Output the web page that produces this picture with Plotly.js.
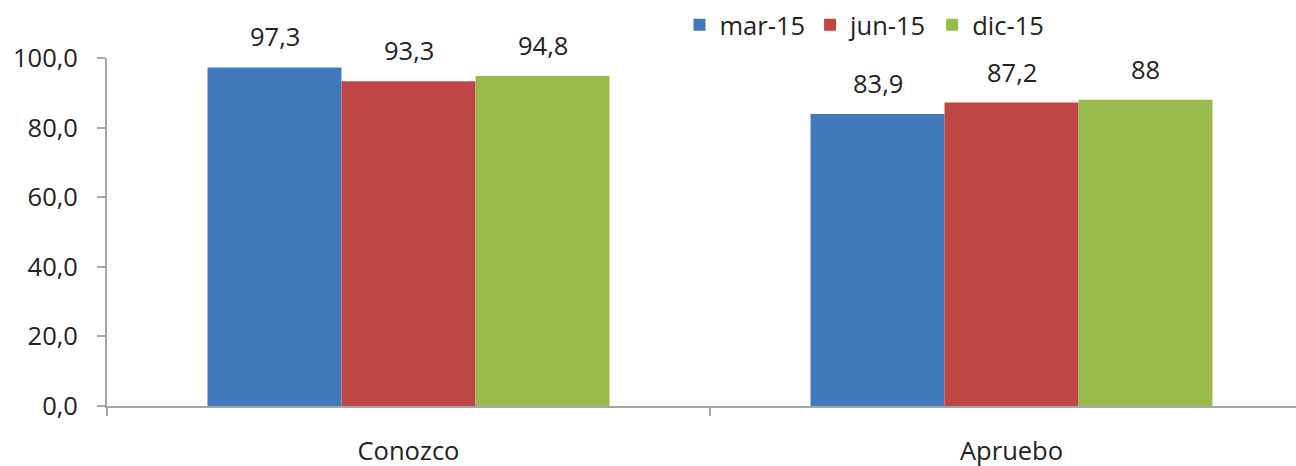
<!DOCTYPE html>
<html>
<head>
<meta charset="utf-8">
<script src="https://cdn.plot.ly/plotly-3.0.1.min.js"></script>
<style>html,body{margin:0;padding:0;background:#fff;overflow:hidden}#chart{width:1296px;height:466px}</style>
</head>
<body>
<div id="chart"></div>
<script>
const categories = ["Conozco", "Apruebo"];
const seriesNames = ["mar-15", "jun-15", "dic-15"];
const mar15 = [97.3, 83.9];
const jun15 = [93.3, 87.2];
const dic15 = [94.8, 88];
const yTicks = [0, 20, 40, 60, 80, 100];
const yTickLabels = ["0,0", "20,0", "40,0", "60,0", "80,0", "100,0"];

const colors = ["#4279BC", "#BF4644", "#98B94C"];
const allSeries = [mar15, jun15, dic15];
const fmt = v => String(v).replace(".", ",");
const FONT = "Open Sans, sans-serif";
const FS = 25.5;
const bargap = 1/3;

const traces = allSeries.map((vals, j) => ({
  type: "bar",
  name: seriesNames[j],
  x: categories,
  y: vals,
  marker: {color: colors[j], line: {width: 0}},
  hoverinfo: "skip"
}));

const bw = (1 - bargap) / allSeries.length;
const annotations = [];
allSeries.forEach((vals, j) => {
  vals.forEach((v, i) => {
    annotations.push({
      x: i + (j - (allSeries.length - 1) / 2) * bw,
      y: v, xref: "x", yref: "y",
      text: fmt(v), showarrow: false,
      yanchor: "bottom", yshift: 12,
      font: {family: FONT, size: FS, color: "#222"}
    });
  });
});

const plotW = 1296 - 107;
const pitch = 603;

const layout = {
  width: 1296, height: 466,
  margin: {l: 107, r: 0, t: 58, b: 60},
  paper_bgcolor: "#fff", plot_bgcolor: "#fff",
  barmode: "group", bargap: bargap, bargroupgap: 0,
  font: {family: FONT, size: FS, color: "#222"},
  showlegend: true,
  legend: {
    orientation: "h", x: 0.4815, xanchor: "left",
    yref: "container", y: 0.946, yanchor: "middle",
    font: {family: FONT, size: FS, color: "#222"},
    traceorder: "normal", itemwidth: 30
  },
  xaxis: {
    type: "category",
    range: [-0.5, -0.5 + plotW / pitch],
    showline: true, linecolor: "#A6A6A6", linewidth: 2,
    ticks: "outside", tickson: "boundaries", ticklen: 8, tickcolor: "#A6A6A6", tickwidth: 2,
    showgrid: false, zeroline: false,
    tickfont: {family: FONT, size: FS, color: "#222"},
    ticklabelstandoff: 21,
    fixedrange: true
  },
  yaxis: {
    range: [0, 100],
    tickvals: yTicks, ticktext: yTickLabels,
    showline: true, linecolor: "#A6A6A6", linewidth: 2,
    ticks: "outside", ticklen: 8, tickcolor: "#A6A6A6", tickwidth: 2,
    showgrid: false, zeroline: false,
    tickfont: {family: FONT, size: FS, color: "#222"},
    ticklabelstandoff: 14,
    fixedrange: true
  },
  annotations: annotations
};

Plotly.newPlot("chart", traces, layout, {displayModeBar: false, staticPlot: true});
</script>
</body>
</html>
